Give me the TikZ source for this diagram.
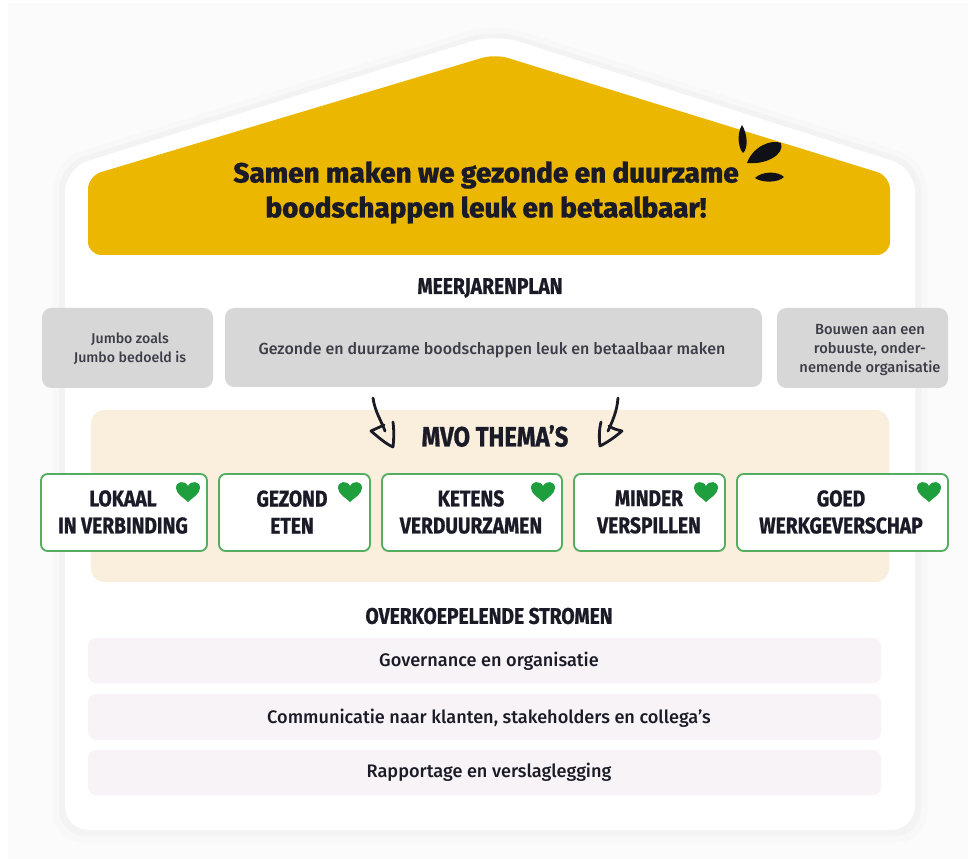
\documentclass[tikz,border=0pt]{standalone}
\usepackage{fontspec}
\setmainfont{Fira Sans}
\newfontfamily\headfont[FakeStretch=0.85,FakeBold=1]{Fira Sans Bold}
\newfontfamily\titlefont[FakeBold=0.5]{Fira Sans ExtraBold}
\newfontfamily\bodyfont{Fira Sans Medium}
\definecolor{ink}{HTML}{1B1B28}
\definecolor{gold}{HTML}{EBB700}
\definecolor{greybox}{HTML}{D7D7D7}
\definecolor{cream}{HTML}{FAEFDC}
\definecolor{pinkrow}{HTML}{F7F3F6}
\definecolor{jgreen}{HTML}{1E9E3C}
\definecolor{boxgreen}{HTML}{55AE60}
\definecolor{pagebg}{HTML}{FBFBFB}
\definecolor{houseglowA}{HTML}{F8F8F8}
\definecolor{houseglowB}{HTML}{F3F3F3}
\tikzset{
  x=0.75pt,y=-0.75pt,
  greyblock/.style={fill=greybox,rounded corners=7pt},
  greytext/.style={font=\bodyfont\fontsize{10.6}{14.6}\selectfont,text=ink!85,align=center},
  greywide/.style={font=\bodyfont\fontsize{12}{14.6}\selectfont,text=ink!85,align=center},
  greyright/.style={font=\bodyfont\fontsize{11}{14.6}\selectfont,text=ink!85,align=center},
  theme/.style={fill=white,draw=boxgreen,line width=1.4pt,rounded corners=5pt},
  themetext/.style={font=\headfont\fontsize{17}{20.3}\selectfont,text=ink,align=center},
  headtext/.style={font=\headfont\fontsize{17}{19}\selectfont,text=ink,align=center},
  rowblock/.style={fill=pinkrow,rounded corners=6pt},
  rowtext/.style={font=\bodyfont\fontsize{13.6}{16}\selectfont,text=ink,align=center},
  heart/.pic={\fill[jgreen] (0,10) .. controls (-4,6) and (-12,2) .. (-12,-4) .. controls (-12,-11) and (-3,-12) .. (0,-6) .. controls (3,-12) and (12,-11) .. (12,-4) .. controls (12,2) and (4,6) .. (0,10) -- cycle;},
  sketch/.style={draw=ink,line width=2.1pt,line cap=round,line join=round},
}
\begin{document}
\begin{tikzpicture}
\useasboundingbox (0,0) rectangle (968,859);
\fill[white] (0,0) rectangle (968,859);
\fill[pagebg] (8,3) rectangle (968,859);
% house
\fill[houseglowA,rounded corners=22pt] (53,160) -- (495,23) -- (927,160) -- (927,842) -- (53,842) -- cycle;
\fill[houseglowB,rounded corners=20pt] (59,164) -- (495,29) -- (921,164) -- (921,836) -- (59,836) -- cycle;
\fill[white,rounded corners=18pt] (65,168) -- (495,34) -- (915,168) -- (915,830) -- (65,830) -- cycle;
% roof
\path[fill=gold,rounded corners=10pt] (88,176) -- (495,54) -- (890,176) -- (890,255) -- (88,255) -- cycle;
\node[font=\titlefont\fontsize{20.9}{26.2}\selectfont,text=ink,align=center] (title) at (486,192.5) {Samen maken we gezonde en duurzame\\boodschappen leuk en betaalbaar!};
\fill[ink!60!black] (742,125) .. controls (736,135) and (739,149) .. (743,153) .. controls (748,149) and (748,135) .. (742,125) -- cycle;
\fill[ink!60!black] (747,163) .. controls (753,146) and (772,139) .. (781,143) .. controls (785,155) and (765,165) .. (747,163) -- cycle;
\fill[ink!60!black] (755,178) .. controls (762,171) and (778,171) .. (784,177) .. controls (778,183) and (762,183) .. (755,178) -- cycle;
% plan
\node[headtext] (plan) at (490,288) {MEERJARENPLAN};
\path[greyblock] (42,308) rectangle (213,388);
\path[greyblock] (225,308) rectangle (762,387);
\path[greyblock] (777,308) rectangle (948,388);
\node[greytext] (p1) at (130,349) {Jumbo zoals\\Jumbo bedoeld is};
\node[greywide] (p2) at (492,350) {Gezonde en duurzame boodschappen leuk en betaalbaar maken};
\node[greyright] (p3) at (870,350) {Bouwen aan een\\robuuste, onder-\\nemende organisatie};
% themes band
\path[fill=cream,rounded corners=10pt] (91,410) rectangle (889,582);
\node[headtext,font=\headfont\fontsize{21}{23}\selectfont] (mvo) at (495,436) {MVO THEMA’S};
% arrows
\coordinate (a1) at (373,398);
\coordinate (a2) at (385,431);
\coordinate (b1) at (618,398);
\coordinate (b2) at (608,431);
\draw[sketch] (a1) .. controls (375,412) and (381,420) .. (a2);
\draw[sketch] (393,422) .. controls (394,430) and (394,438) .. (393,447) .. controls (386,444) and (378,437) .. (371,431) .. controls (375,429) and (380,427) .. (384,425);
\draw[sketch] (b1) .. controls (617,412) and (612,422) .. (b2);
\draw[sketch] (601,422) .. controls (599,430) and (599,438) .. (600,446) .. controls (608,442) and (615,437) .. (622,431) .. controls (618,430) and (613,429) .. (609,426);
% theme boxes
\path[theme] (41,474) rectangle (207,551);
\path[theme] (219,474) rectangle (370,551);
\path[theme] (382,474) rectangle (562,551);
\path[theme] (574,474) rectangle (725,551);
\path[theme] (737,474) rectangle (948,551);
\node[themetext] (t1) at (123,512) {LOKAAL\\IN VERBINDING};
\node[themetext] (t2) at (292,512) {GEZOND\\ETEN};
\node[themetext] (t3) at (471,512) {KETENS\\VERDUURZAMEN};
\node[themetext] (t4) at (649,512) {MINDER\\VERSPILLEN};
\node[themetext] (t5) at (841,512) {GOED\\WERKGEVERSCHAP};
\path (188,492) pic {heart};
\path (350,492) pic {heart};
\path (543,492) pic {heart};
\path (706,492) pic {heart};
\path (929,492) pic {heart};
% streams
\node[headtext] (over) at (489,616) {OVERKOEPELENDE STROMEN};
\path[rowblock] (88,638) rectangle (881,683);
\path[rowblock] (88,694) rectangle (881,740);
\path[rowblock] (88,750) rectangle (881,795);
\node[rowtext] (r1) at (489,661) {Governance en organisatie};
\node[rowtext] (r2) at (489,718) {Communicatie naar klanten, stakeholders en collega’s};
\node[rowtext] (r3) at (489,772) {Rapportage en verslaglegging};
\end{tikzpicture}
\end{document}
